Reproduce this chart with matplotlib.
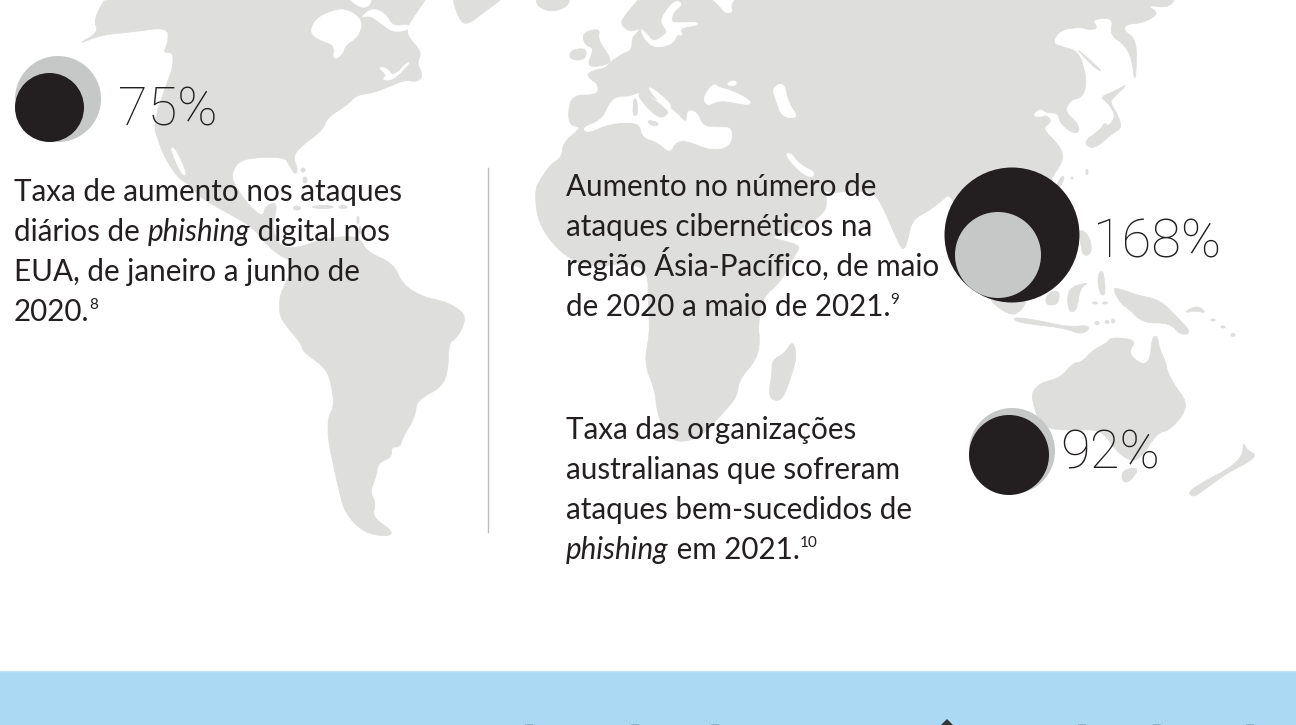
import matplotlib
matplotlib.use("Agg")
import matplotlib.pyplot as plt
import numpy as np
from matplotlib.patches import Circle, Ellipse, Polygon, Rectangle

FONT = "Lato"
DARK = "#231f20"
LAND = "#dededd"
PALE = "#c6c8c8"
BLUE = "#abd9f3"

# map outlines, in picture pixels
americas = [(110, -10), (93, 20), (99, 32), (76, 45), (101, 35), (132, 32), (168, 27), (168, 43), (163, 53), (173, 52),
            (173, 67), (167, 83), (153, 123), (159, 143), (165, 158), (178, 178), (190, 185), (200, 197), (213, 205),
            (235, 217), (252, 227), (267, 245), (280, 256), (295, 262), (285, 285), (280, 295), (279, 313), (285, 325),
            (301, 343), (303, 352), (326, 368), (332, 387), (334, 407), (328, 417), (328, 440), (336, 477), (339, 490),
            (345, 513), (363, 532), (386, 537), (394, 532), (372, 517), (376, 503), (370, 492), (376, 477), (378, 463),
            (392, 457), (391, 447), (400, 447), (403, 437), (415, 417), (417, 400), (442, 387), (448, 370), (449, 343),
            (454, 340), (462, 330), (466, 314), (447, 302), (423, 297), (403, 285), (393, 263), (367, 252), (360, 238),
            (345, 236), (320, 240), (297, 248), (280, 247), (272, 227), (275, 217), (277, 202), (265, 206), (263, 217),
            (250, 207), (233, 183), (232, 172), (240, 160), (263, 157), (285, 158), (288, 163), (295, 175), (298, 170),
            (293, 157), (300, 147), (323, 130), (327, 118), (347, 105), (357, 95), (373, 93), (393, 85), (405, 80),
            (418, 82), (423, 75), (417, 63), (422, 52), (408, 37), (407, 27), (415, 15), (432, -10)]
greenland = [(450, -10), (459, 20), (467, 25), (483, 13), (514, -10)]
iceland = [(535, -3), (571, -3), (567, 7), (552, 12), (538, 7)]
eurasia_africa = [(647, -10), (625, 15), (620, 24), (630, 32), (641, 28), (636, 34), (632, 38), (632, 50), (622, 54),
                  (609, 63), (606, 68), (595, 70), (587, 74), (590, 79), (598, 84), (598, 95), (572, 95), (568, 113),
                  (570, 125), (580, 127), (578, 130), (563, 143), (562, 157), (550, 165), (540, 180), (535, 190),
                  (537, 217), (547, 237), (566, 257), (591, 267), (632, 263), (648, 273), (648, 300), (650, 333),
                  (644, 363), (655, 390), (657, 413), (669, 442), (698, 440), (723, 413), (737, 397), (739, 380),
                  (756, 360), (760, 343), (758, 325), (763, 297), (780, 283), (795, 255), (801, 246), (785, 241),
                  (771, 238), (782, 233), (797, 232), (825, 213), (827, 200), (824, 190), (832, 193), (850, 191),
                  (873, 192), (882, 205), (895, 235), (903, 252), (908, 240), (912, 220), (930, 210), (940, 202),
                  (952, 192), (970, 250), (1000, 295), (1040, 290), (1050, 200), (1050, 180), (1062, 163), (1063, 153),
                  (1057, 143), (1042, 128), (1052, 122), (1047, 115), (1038, 118), (1032, 115), (1040, 108), (1047, 113),
                  (1058, 113), (1060, 123), (1072, 133), (1080, 132), (1077, 122), (1065, 112), (1070, 100), (1082, 98),
                  (1087, 83), (1082, 60), (1075, 50), (1063, 47), (1052, 43), (1060, 30), (1080, 27), (1090, 30),
                  (1098, 28), (1092, 20), (1105, 18), (1113, 20), (1110, 35), (1125, 45), (1132, 60), (1134, 78),
                  (1136, 77), (1137, 40), (1123, 30), (1127, 24), (1143, 23), (1160, 13), (1145, 5), (1172, 8),
                  (1176, -10)]
britain = [(582, 33), (600, 28), (598, 40), (610, 57), (610, 64), (587, 68), (592, 53), (593, 48), (585, 45)]
ireland = [(570, 50), (587, 48), (585, 60), (570, 60)]
italy = [(637, 93), (648, 95), (665, 108), (669, 113), (662, 118), (655, 115), (643, 103)]
sicily = [(647, 120), (658, 122), (658, 126), (650, 125)]
corsica = [(634, 98), (637, 100), (638, 115), (633, 116), (633, 106)]
sakhalin = [(1076, 48), (1090, 60), (1103, 72), (1095, 68), (1085, 58)]
japan = [(1100, 97), (1113, 92), (1129, 83), (1113, 98), (1110, 102), (1118, 115), (1122, 128), (1113, 133), (1093, 150),
         (1083, 142), (1100, 130), (1105, 122), (1108, 127), (1116, 116), (1108, 103)]
taiwan = [(1062, 175), (1065, 178), (1058, 190), (1055, 188)]
madagascar = [(793, 340), (797, 357), (789, 383), (781, 402), (768, 398), (772, 373), (772, 360), (785, 353)]
sumatra = [(985, 296), (1030, 296), (1018, 315), (1005, 313)]
java = [(1012, 317), (1037, 320), (1067, 327), (1092, 325), (1083, 335), (1063, 328), (1037, 325), (1017, 322)]
borneo = [(1047, 293), (1060, 290), (1058, 305), (1045, 305)]
sulawesi = [(1067, 300), (1070, 287), (1090, 282), (1080, 288), (1077, 310), (1070, 313)]
philippines = [(1080, 228), (1090, 237), (1092, 253), (1083, 257), (1080, 240)]
mindanao = [(1097, 277), (1103, 268), (1106, 295), (1100, 295)]
new_guinea = [(1112, 287), (1123, 290), (1137, 295), (1160, 300), (1177, 317), (1192, 333), (1180, 335), (1170, 323),
              (1143, 323), (1130, 310), (1120, 303)]
new_britain = [(1183, 313), (1197, 305), (1207, 313), (1195, 311)]
australia = [(1032, 400), (1033, 390), (1043, 382), (1060, 378), (1073, 363), (1082, 362), (1093, 350), (1107, 343),
             (1110, 338), (1123, 338), (1136, 341), (1128, 353), (1142, 365), (1150, 360), (1152, 338), (1157, 335),
             (1160, 350), (1165, 360), (1167, 370), (1173, 383), (1187, 402), (1183, 415), (1170, 430), (1157, 433),
             (1140, 460), (1127, 460), (1113, 447), (1107, 437), (1097, 430), (1080, 430), (1057, 430), (1040, 425)]
tasmania = [(1122, 470), (1140, 467), (1130, 482), (1122, 482)]
new_zealand = [(1243, 442), (1247, 450), (1257, 455), (1247, 463), (1233, 470), (1220, 478), (1200, 493), (1193, 497),
               (1188, 492), (1203, 482), (1230, 468), (1243, 455)]
land_shapes = [americas, greenland, iceland, eurasia_africa, britain, ireland, sakhalin, japan, taiwan, madagascar,
               sumatra, java, borneo, sulawesi, philippines, mindanao, new_guinea, new_britain, australia, tasmania,
               new_zealand]

hudson = [(310, 33), (315, 20), (327, 13), (345, 8), (363, 20), (358, 37), (345, 45), (342, 55), (333, 60), (335, 45),
          (320, 40)]
hudson_strait = [(360, 18), (372, 8), (385, 13), (393, 27), (409, 24), (409, 30), (393, 32), (383, 25), (370, 15)]
arctic_channel = [(345, -5), (372, -5), (370, 6), (360, 8)]
st_lawrence = [(378, 67), (387, 68), (393, 77), (408, 62), (410, 63), (393, 80), (382, 80), (387, 75)]
california_gulf = [(170, 148), (175, 148), (187, 175), (182, 175)]
baltic = [(640, 28), (645, 40), (655, 48), (673, 44), (677, 34), (683, 36), (679, 28), (698, 25), (697, 22), (677, 23),
          (671, 22), (673, 12), (683, 4), (675, 0), (663, 15), (661, 23), (668, 32), (662, 37), (653, 42), (646, 33)]
white_sea = [(708, -5), (720, 6), (725, 13), (733, 12), (730, 5), (738, -5)]
mediterranean = [(582, 128), (588, 133), (610, 123), (640, 122), (642, 137), (658, 142), (670, 153), (675, 142),
                 (687, 140), (710, 150), (730, 147), (733, 128), (718, 127), (703, 127), (697, 112), (687, 110),
                 (687, 125), (672, 108), (640, 92), (630, 97), (617, 97), (610, 103), (602, 120)]
adriatic = [(648, 88), (652, 88), (672, 105), (668, 110), (662, 105)]
black_sea = [(703, 98), (713, 83), (720, 88), (730, 90), (750, 100), (750, 105), (737, 103), (720, 100), (707, 106)]
azov = [(727, 83), (735, 80), (737, 85), (729, 86)]
caspian = [(772, 88), (784, 82), (788, 103), (799, 118), (782, 117), (776, 100)]
persian_gulf = [(785, 155), (790, 152), (800, 165), (815, 172), (812, 178), (800, 172)]
water_shapes = [hudson, hudson_strait, arctic_channel, st_lawrence, california_gulf, baltic, white_sea, mediterranean,
                adriatic, black_sea, azov, caspian, persian_gulf]
top_land = [italy, sicily, corsica]

# small islands: x, y, width, height
island_x = [303, 305, 297, 323, 343, 358, 360, 1097, 1107, 1113, 1095, 1105, 1213, 1223, 1233, 1072, 1087]
island_y = [170, 180, 208, 207, 207, 220, 230, 323, 322, 321, 303, 303, 320, 327, 335, 178, 172]
island_w = [5, 5, 8, 22, 9, 3, 3, 5, 5, 4, 6, 6, 5, 5, 5, 3, 3]
island_h = [5, 7, 5, 4, 4, 8, 8, 4, 4, 5, 3, 3, 3, 3, 4, 3, 6]

# circle charts: centre x, centre y, radius
outer_x = [58, 1012, 1012]
outer_y = [99, 235, 451]
outer_r = [43, 67.5, 43]
outer_color = [PALE, DARK, PALE]
inner_x = [49.5, 998, 1009]
inner_y = [107.5, 255, 455]
inner_r = [34.5, 43, 40]
inner_color = [DARK, PALE, DARK]

pct_labels = ["75%", "168%", "92%"]
pct_x = [118, 1092, 1060]
pct_y = [125, 257, 468]

# each line is a list of (text, style) runs; style: n normal, i italic, s superscript
block_left = [[("Taxa de aumento nos ataques", "n")],
              [("diários de ", "n"), ("phishing", "i"), (" digital nos", "n")],
              [("EUA, de janeiro a junho de", "n")],
              [("2020.", "n"), ("8", "s")]]
block_asia = [[("Aumento no número de", "n")],
              [("ataques cibernéticos na", "n")],
              [("região Ásia-Pacífico, de maio", "n")],
              [("de 2020 a maio de 2021.", "n"), ("9", "s")]]
block_aus = [[("Taxa das organizações", "n")],
             [("australianas que sofreram", "n")],
             [("ataques bem-sucedidos de", "n")],
             [("phishing", "i"), (" em 2021.", "n"), ("10", "s")]]
block_x = [14, 566, 566]
block_y = [201, 196, 439]
LINE_GAP = 40

band_top = 671
cut_marks_x = [529, 635, 715, 1082, 1157, 1250]
peak_x = 947


def smooth(points, rounds=2):
    pts = np.array(points, dtype=float)
    for _ in range(rounds):
        nxt = np.roll(pts, -1, axis=0)
        pts = np.column_stack([0.75 * pts + 0.25 * nxt, 0.25 * pts + 0.75 * nxt]).reshape(-1, 2)
    return pts


def draw_runs(ax, fig, x, y, runs, size=21.3):
    for text, style in runs:
        fs = size * 0.52 if style == "s" else size
        yy = y - 12 if style == "s" else y
        ax.text(x, yy, text, fontsize=fs, family=FONT, color=DARK, ha="left", va="baseline",
                style="italic" if style == "i" else "normal", zorder=6)
        # spaces at the run's end are not counted in the extent, so measure with a stand-in
        probe = ax.text(x, yy, text.replace(" ", "\u00a0"), fontsize=fs, family=FONT,
                        style="italic" if style == "i" else "normal")
        x += probe.get_window_extent(fig.canvas.get_renderer()).width
        probe.remove()


fig = plt.figure(figsize=(12.96, 7.25), dpi=100)
ax = fig.add_axes([0, 0, 1, 1])
ax.set_xlim(0, 1296)
ax.set_ylim(725, 0)
ax.axis("off")

for shape in land_shapes:
    ax.add_patch(Polygon(smooth(shape), closed=True, fc=LAND, ec=LAND, lw=0.5, zorder=1))
for shape in water_shapes:
    ax.add_patch(Polygon(smooth(shape), closed=True, fc="white", ec="white", lw=0.5, zorder=2))
for shape in top_land:
    ax.add_patch(Polygon(smooth(shape), closed=True, fc=LAND, ec=LAND, lw=0.5, zorder=3))
ax.add_patch(Polygon(smooth(adriatic), closed=True, fc="white", ec="white", lw=0.5, zorder=3))
for x, y, w, h in zip(island_x, island_y, island_w, island_h):
    ax.add_patch(Ellipse((x, y), w, h, fc=LAND, ec="none", zorder=3))

ax.plot([488, 488], [168, 532], color="#bcbdbd", lw=1, zorder=4)

for x, y, r, c in zip(outer_x, outer_y, outer_r, outer_color):
    ax.add_patch(Circle((x, y), r, fc=c, ec="none", zorder=5))
for x, y, r, c in zip(inner_x, inner_y, inner_r, inner_color):
    ax.add_patch(Circle((x, y), r, fc=c, ec="none", zorder=5.5))

for label, x, y in zip(pct_labels, pct_x, pct_y):
    ax.text(x, y, label, fontsize=39, family="Roboto", weight="light", color=DARK,
            ha="left", va="baseline", zorder=6)

for block, x0, y0 in zip([block_left, block_asia, block_aus], block_x, block_y):
    for i, runs in enumerate(block):
        draw_runs(ax, fig, x0, y0 + i * LINE_GAP, runs)

ax.add_patch(Rectangle((0, band_top), 1296, 725 - band_top, fc=BLUE, ec="none", zorder=7))
ax.plot([0, 1296], [band_top, band_top], color="#c4e4f6", lw=1, zorder=8)
for x in cut_marks_x:
    ax.add_patch(Rectangle((x - 4, 723.5), 8, 2, fc="#8db4cc", ec="none", zorder=8))
ax.add_patch(Polygon([(peak_x - 6, 725), (peak_x, 719), (peak_x + 6, 725)], closed=True, fc="#33363a", ec="none", zorder=8))

fig.savefig("out.png", dpi=100)
